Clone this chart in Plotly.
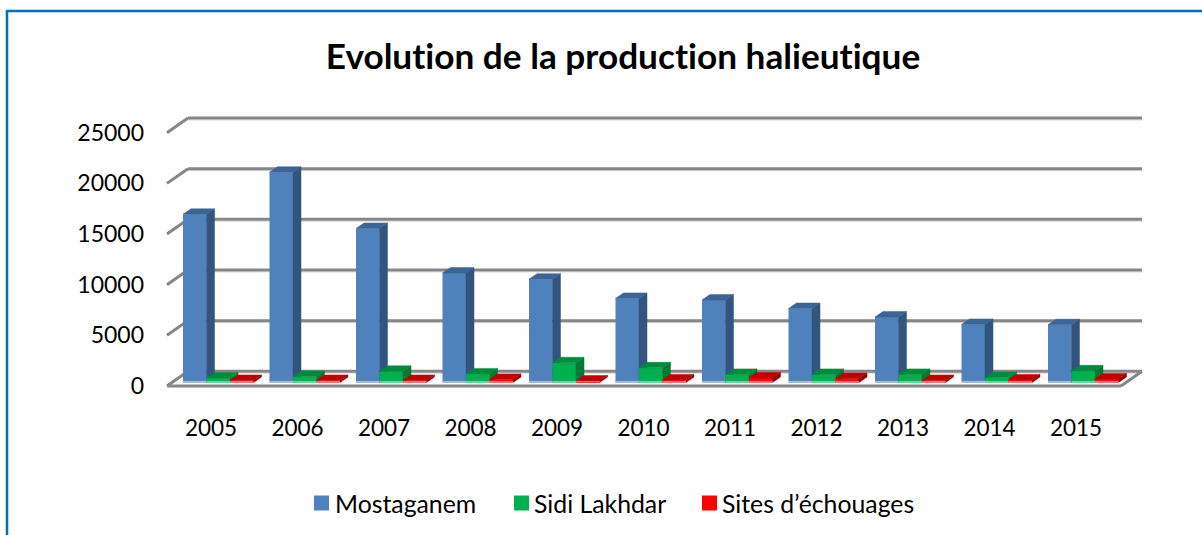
"""Evolution de la production halieutique: clustered columns with a drawn 3D look."""

import plotly.graph_objects as go

YEARS = [2005, 2006, 2007, 2008, 2009, 2010, 2011, 2012, 2013, 2014, 2015]
MOSTAGANEM = [16600, 20750, 15200, 10800, 10200, 8300, 8150, 7300, 6470, 5730, 5700]
SIDI_LAKHDAR = [450, 600, 1100, 850, 1950, 1450, 800, 800, 800, 500, 1150]
SITES = [200, 200, 200, 300, 150, 250, 450, 400, 200, 250, 350]
Y_TICKS = [0, 5000, 10000, 15000, 20000, 25000]
SERIES_NAMES = ["Mostaganem", "Sidi Lakhdar", "Sites d’échouages"]
SERIES_COLORS = ["#4f81bd", "#00b050", "#ff0000"]

WIDTH, HEIGHT = 1202, 535
FONT = "Lato"

# figure pixels of the plot box
LEFT, RIGHT, TOP, BOTTOM = 160, 1150, 110, 395
# one year and one unit in pixels
PX_PER_YEAR = 86.5
PX_PER_UNIT = 253.3 / 25000
FIRST_YEAR_PX = 211
YEAR_AT_LEFT = 2005 + (LEFT - FIRST_YEAR_PX) / PX_PER_YEAR
VALUE_AT_BOTTOM = -(BOTTOM - 386) / PX_PER_UNIT


def dx(px):
    return px / PX_PER_YEAR


def dy(px):
    return px / PX_PER_UNIT


def paper_x(px):
    return (px - LEFT) / (RIGHT - LEFT)


def paper_y(px):
    return (BOTTOM - px) / (BOTTOM - TOP)


BAR_WIDTH = dx(23.5)
BAR_BASE = dy(3.5)
BAR_DX, BAR_DY = dx(8), dy(5.5)
WALL_DX, WALL_DY = dx(21), dy(14.7)
X_FRONT_LEFT = 2005 + (167 - FIRST_YEAR_PX) / PX_PER_YEAR
X_FRONT_RIGHT = 2005 + (1121 - FIRST_YEAR_PX) / PX_PER_YEAR
GRID_COLOR = "#868686"
GRID_SHADOW = "#dcdcdc"


def faces(values, offset):
    """Side and top faces of one series, as polygons in data units."""
    side_x, side_y, top_x, top_y = [], [], [], []
    for year, value in zip(YEARS, values):
        x0 = year + offset
        x1 = x0 + BAR_WIDTH
        y0 = BAR_BASE
        y1 = BAR_BASE + value
        side_x += [x1, x1 + BAR_DX, x1 + BAR_DX, x1, x1, None]
        side_y += [y0, y0 + BAR_DY, y1 + BAR_DY, y1, y0, None]
        top_x += [x0, x0 + BAR_DX, x1 + BAR_DX, x1, x0, None]
        top_y += [y1, y1 + BAR_DY, y1 + BAR_DY, y1, y1, None]
    return side_x, side_y, top_x, top_y


def add_series(fig, name, values, offset, front, side, top, band, z):
    fig.add_trace(go.Bar(
        x=YEARS,
        y=values,
        base=BAR_BASE,
        name=name,
        width=BAR_WIDTH,
        offset=offset,
        marker=dict(color=front, line=dict(width=0)),
        zorder=z,
        showlegend=False,
        hovertemplate=f"<b>{name}</b><br>%{{x}}: %{{y:,.0f}}<extra></extra>",
    ))
    side_x, side_y, top_x, top_y = faces(values, offset)
    for xs, ys, color in ((side_x, side_y, side), (top_x, top_y, top)):
        fig.add_trace(go.Scatter(
            x=xs, y=ys,
            mode="lines",
            fill="toself",
            fillcolor=color,
            line=dict(color=color, width=0.5),
            showlegend=False,
            hoverinfo="skip",
            zorder=z + 1,
        ))
    # pale bevel along the foot of each column
    band_x, band_y = [], []
    for year in YEARS:
        band_x += [year + offset, year + offset + BAR_WIDTH, None]
        band_y += [BAR_BASE + dy(0.8), BAR_BASE + dy(0.8), None]
    fig.add_trace(go.Scatter(
        x=band_x, y=band_y,
        mode="lines",
        line=dict(color=band, width=1.6),
        showlegend=False,
        hoverinfo="skip",
        zorder=z + 1,
    ))


def line_shape(x0, y0, x1, y1, color=GRID_COLOR, width=3):
    return dict(
        type="line", xref="x", yref="y", layer="below",
        x0=x0, y0=y0, x1=x1, y1=y1,
        line=dict(color=color, width=width),
    )


shapes = []
x_back_left = X_FRONT_LEFT + WALL_DX
x_back_right = X_FRONT_RIGHT + WALL_DX
for tick in Y_TICKS:
    y_back = tick + WALL_DY
    shapes.append(line_shape(x_back_left, y_back - dy(2), x_back_right, y_back - dy(2), GRID_SHADOW, 1))
    shapes.append(line_shape(X_FRONT_LEFT, tick, x_back_left, y_back))
    shapes.append(line_shape(x_back_left, y_back, x_back_right, y_back))
# floor: front edge and right edge
shapes.append(line_shape(X_FRONT_LEFT, 0, X_FRONT_RIGHT, 0))
shapes.append(line_shape(X_FRONT_RIGHT, 0, x_back_right, WALL_DY))

# blue frame around the chart, running off the right and bottom of the picture
shapes.append(dict(
    type="rect", xref="paper", yref="paper", layer="above",
    x0=paper_x(7), x1=paper_x(1230),
    y0=paper_y(560), y1=paper_y(11),
    line=dict(color="#0070c0", width=2.5),
    fillcolor="rgba(0,0,0,0)",
))

# legend row: swatch left edge and text left edge of each entry, in figure pixels
LEGEND_SWATCH_X = [314, 514, 702]
LEGEND_TEXT_X = [333, 532, 720]
LEGEND_Y = 503
SWATCH = 15

annotations = []
for name, color, sx, tx in zip(SERIES_NAMES, SERIES_COLORS, LEGEND_SWATCH_X, LEGEND_TEXT_X):
    shapes.append(dict(
        type="rect", xref="paper", yref="paper", layer="above",
        x0=paper_x(sx), x1=paper_x(sx + SWATCH),
        y0=paper_y(LEGEND_Y - SWATCH / 2), y1=paper_y(LEGEND_Y + SWATCH / 2),
        line=dict(width=0),
        fillcolor=color,
    ))
    annotations.append(dict(
        xref="paper", yref="paper",
        x=paper_x(tx), y=paper_y(LEGEND_Y),
        xanchor="left", yanchor="middle",
        text=name, showarrow=False,
        font=dict(family=FONT, size=24.8, color="#000000"),
    ))

fig = go.Figure()
add_series(fig, SERIES_NAMES[0], MOSTAGANEM, dx(-28), SERIES_COLORS[0], "#32547e", "#3c6494", "#9dbbe0", 0)
add_series(fig, SERIES_NAMES[1], SIDI_LAKHDAR, dx(-4.5), SERIES_COLORS[1], "#007a37", "#008a3e", "#5fd58d", 2)
add_series(fig, SERIES_NAMES[2], SITES, dx(19), SERIES_COLORS[2], "#900000", "#c00000", "#ff6a6a", 4)

fig.update_layout(
    width=WIDTH,
    height=HEIGHT,
    barmode="overlay",
    showlegend=False,
    plot_bgcolor="white",
    paper_bgcolor="white",
    margin=dict(l=LEFT, r=WIDTH - RIGHT, t=TOP, b=HEIGHT - BOTTOM, autoexpand=False),
    font=dict(family=FONT, size=24, color="#000000"),
    title=dict(
        text="<b>Evolution de la production halieutique</b>",
        font=dict(family=FONT, size=35.2, color="#000000"),
        x=623 / WIDTH, xref="container", xanchor="center",
        y=1 - 57 / HEIGHT, yref="container", yanchor="middle",
    ),
    xaxis=dict(
        range=[YEAR_AT_LEFT, YEAR_AT_LEFT + (RIGHT - LEFT) / PX_PER_YEAR],
        tickmode="array",
        tickvals=YEARS,
        ticktext=[str(y) for y in YEARS],
        showgrid=False,
        zeroline=False,
        showline=False,
        ticks="",
        ticklabelstandoff=17,
        tickfont=dict(family=FONT, size=22.5),
    ),
    yaxis=dict(
        range=[VALUE_AT_BOTTOM, VALUE_AT_BOTTOM + (BOTTOM - TOP) / PX_PER_UNIT],
        tickmode="array",
        tickvals=Y_TICKS,
        ticktext=[str(v) for v in Y_TICKS],
        showgrid=False,
        zeroline=False,
        showline=False,
        ticks="",
        ticklabelstandoff=15,
        tickfont=dict(family=FONT, size=23),
    ),
    shapes=shapes,
    annotations=annotations,
)

fig.write_html(
    "out.html",
    config=dict(displayModeBar=False),
    post_script=(
        "document.body.style.margin='0';"
        "document.head.insertAdjacentHTML('beforeend',"
        "'<style>text{font-variant-ligatures:none !important}</style>');"
    ),
)
